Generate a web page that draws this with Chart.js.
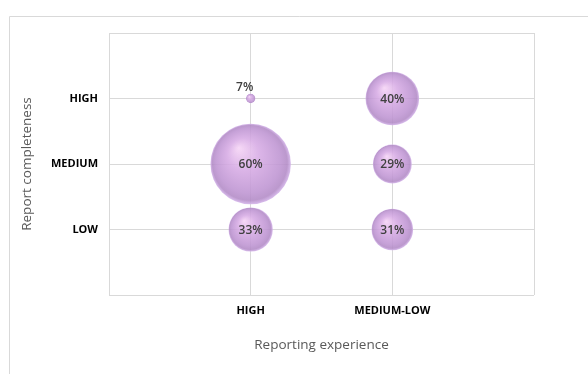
<!DOCTYPE html>
<html>
<head>
<meta charset="utf-8">
<script src="https://cdn.jsdelivr.net/npm/chart.js@4"></script>
<style>
  html, body { margin: 0; padding: 0; background: #fff; }
  #wrap { width: 588px; height: 374px; position: relative; }
</style>
</head>
<body>
<div id="wrap"><canvas id="grafico" width="588" height="374"></canvas></div>
<script>
// datos
const experiencia = ['HIGH', 'MEDIUM-LOW'];          // eje x (1, 2)
const completitud = ['LOW', 'MEDIUM', 'HIGH'];       // eje y (1, 2, 3)
const valoresHigh = [33, 60, 7];                     // % por LOW, MEDIUM, HIGH
const valoresMedLow = [31, 29, 40];

const puntos = [];
[valoresHigh, valoresMedLow].forEach((serie, i) => {
  serie.forEach((v, j) => puntos.push({ x: i + 1, y: j + 1, v: v }));
});

// gradiente tipo esfera
const colorBurbuja = (ctx) => {
  if (ctx.type !== 'data' || !ctx.raw) return '#c49ada';
  const chart = ctx.chart;
  const p = ctx.raw;
  const cx = chart.scales.x ? chart.scales.x.getPixelForValue(p.x) : NaN;
  const cy = chart.scales.y ? chart.scales.y.getPixelForValue(p.y) : NaN;
  const r = p.v * 0.67;
  if (!isFinite(cx) || !isFinite(cy)) return '#c49ada';
  const g = chart.ctx.createRadialGradient(cx - r * 0.3, cy - r * 0.4, 0, cx, cy, r);
  g.addColorStop(0, 'rgba(246,214,246,0.92)');
  g.addColorStop(0.4, 'rgba(214,170,228,0.88)');
  g.addColorStop(0.8, 'rgba(190,148,210,0.88)');
  g.addColorStop(0.93, 'rgba(178,138,198,0.88)');
  g.addColorStop(1, 'rgba(212,180,234,0.9)');
  return g;
};

// etiquetas de porcentaje
const etiquetas = {
  id: 'etiquetas',
  afterDatasetsDraw(chart) {
    const ctx = chart.ctx;
    const meta = chart.getDatasetMeta(0);
    ctx.save();
    ctx.font = '600 12px "Open Sans"';
    ctx.fillStyle = '#404040';
    ctx.textAlign = 'center';
    ctx.textBaseline = 'middle';
    meta.data.forEach((el, i) => {
      const p = puntos[i];
      if (p.v < 10) {
        ctx.fillText(p.v + '%', el.x - 6, el.y - 11);
      } else {
        ctx.fillText(p.v + '%', el.x, el.y + 1);
      }
    });
    ctx.restore();
  }
};

// marco exterior
const marco = {
  id: 'marco',
  beforeDraw(chart) {
    const ctx = chart.ctx;
    ctx.save();
    ctx.strokeStyle = '#d9d9d9';
    ctx.lineWidth = 1;
    ctx.beginPath();
    ctx.moveTo(9.5, 380);
    ctx.lineTo(9.5, 16.5);
    ctx.lineTo(600, 16.5);
    ctx.stroke();
    ctx.restore();
  }
};

new Chart(document.getElementById('grafico'), {
  type: 'bubble',
  data: {
    datasets: [{
      label: 'Report completeness',
      data: puntos,
      radius: (ctx) => ctx.raw ? ctx.raw.v * 0.67 : 3,
      hoverRadius: 0,
      backgroundColor: colorBurbuja,
      borderWidth: 0
    }]
  },
  options: {
    responsive: false,
    animation: false,
    layout: { autoPadding: false, padding: { left: 0, top: 33, right: 54, bottom: 0 } },
    plugins: { legend: { display: false }, tooltip: { enabled: false } },
    scales: {
      x: {
        type: 'linear', min: 0, max: 3,
        afterFit: (s) => { s.height = 79; s.paddingLeft = 0; s.paddingRight = 0; },
        grid: { color: '#d9d9d9', drawTicks: false },
        border: { display: false },
        ticks: {
          stepSize: 1, padding: 9, color: '#000',
          font: { family: '"Open Sans"', size: 11, weight: 'bold' },
          callback: (v) => experiencia[v - 1] || ''
        },
        title: {
          display: true, text: 'Reporting experience', color: '#595959',
          font: { family: '"Open Sans"', size: 13.5 },
          padding: { top: 0, bottom: 21 }
        }
      },
      y: {
        type: 'linear', min: 0, max: 4,
        afterFit: (s) => { s.width = 109; s.paddingTop = 0; s.paddingBottom = 0; },
        grid: { color: '#d9d9d9', drawTicks: false },
        border: { display: false },
        ticks: {
          stepSize: 1, padding: 11, color: '#000',
          font: { family: '"Open Sans"', size: 11, weight: 'bold' },
          callback: (v) => completitud[v - 1] || ''
        },
        title: {
          display: true, text: 'Report completeness', color: '#595959',
          font: { family: '"Open Sans"', size: 13.5 },
          padding: { top: 19, bottom: 0 }
        }
      }
    }
  },
  plugins: [marco, etiquetas]
});
</script>
</body>
</html>
